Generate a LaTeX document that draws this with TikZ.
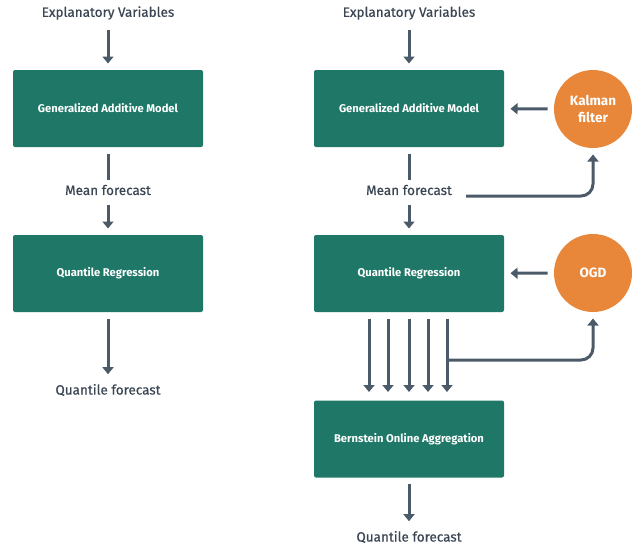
\documentclass[tikz,border=0pt]{standalone}
\usepackage{fontspec}
\setmainfont{Fira Sans}
\newfontfamily\labelfont[FakeBold=0.6]{Fira Sans}
\usetikzlibrary{arrows.meta,positioning}
\definecolor{boxgreen}{HTML}{1F7867}
\definecolor{dotorange}{HTML}{E8873A}
\definecolor{wire}{HTML}{4B5A69}
\definecolor{ink}{HTML}{3A4653}

\begin{document}
\begin{tikzpicture}
 [x=1pt, y=-1pt, line width=3pt,
  model/.style={fill=boxgreen, rounded corners=2pt, minimum width=190pt,
    minimum height=77pt, text=white, font=\fontsize{11.2}{13}\selectfont\bfseries},
  filt/.style={circle, fill=dotorange, minimum size=78pt, inner sep=0pt,
    text=white, align=center, font=\fontsize{13.5}{17}\selectfont\bfseries},
  lbl/.style={text=ink, font=\fontsize{13.5}{16}\selectfont\labelfont},
  wireline/.style={draw=wire, shorten <=5pt, shorten >=5pt},
  arr/.style={wireline, -{Triangle[length=7pt,width=11pt]}}]

  \useasboundingbox (0,0) rectangle (644,546);

  % left chain
  \node[lbl]   (ev1) at (108,13)    {Explanatory Variables};
  \node[model] (gam1) at (108,108.5) {Generalized Additive Model};
  \node[lbl]   (mf1) at (108,190)   {Mean forecast};
  \node[model] (qr1) at (108,273.5) {Quantile Regression};
  \node[lbl]   (qf1) at (108,390)   {Quantile forecast};

  \draw[arr] (ev1) -- (gam1);
  \draw[wireline, shorten >=0pt] (gam1) -- (mf1);
  \draw[arr] (mf1) -- (qr1);
  \draw[arr] (qr1) -- (qf1);

  % right chain
  \node[lbl]   (ev2) at (409,13)    {Explanatory Variables};
  \node[model] (gam2) at (409,108.5) {Generalized Additive Model};
  \node[lbl]   (mf2) at (409,190)   {Mean forecast};
  \node[model] (qr2) at (409,273.5) {Quantile Regression};
  \node[model] (boa) at (409,439)   {Bernstein Online Aggregation};
  \node[lbl]   (qf2) at (409,537)   {Quantile forecast};

  \node[filt] (kal) at (593,109) {Kalman\\filter};
  \node[filt] (ogd) at (593,273) {OGD};

  \draw[arr] (ev2) -- (gam2);
  \draw[wireline, shorten >=0pt] (gam2) -- (mf2);
  \draw[arr] (mf2) -- (qr2);
  \draw[arr] (boa) -- (qf2);
  \draw[arr] (kal) -- (gam2);
  \draw[arr] (ogd) -- (qr2);

  \foreach \dx in {-40,-21,0,19,38}
    \draw[arr, shorten >=7pt] ([xshift=\dx pt]qr2.south) -- ([xshift=\dx pt]boa.north);

  % feedback to the filters
  \coordinate (mfout) at (466,196);
  \coordinate (tap) at (447,360);
  \draw[arr, shorten <=0pt, rounded corners=12pt] (mfout) -| (kal.south);
  \draw[arr, shorten <=0pt, rounded corners=12pt] (tap) -| (ogd.south);
\end{tikzpicture}
\end{document}
